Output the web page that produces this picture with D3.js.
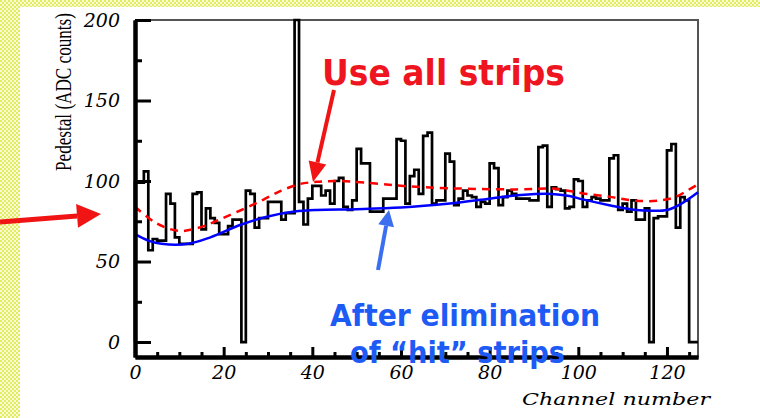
<!DOCTYPE html>
<html>
<head>
<meta charset="utf-8">
<script src="https://cdn.jsdelivr.net/npm/d3@7"></script>
<style>
  body { margin: 0; background: #fff; }
  svg { display: block; }
</style>
</head>
<body>
<svg id="chart" width="760" height="418"></svg>
<script>
// pedestal per channel (ADC counts), channels 0..126
const pedestal = [
  99, 99, 106, 57, 64, 63, 63, 92, 86, 65,
  61, 61, 61, 92, 93, 70, 83, 77, 74, 67,
  67, 72, 76, 76, 0, 94, 92, 71, 77, 77,
  87, 87, 87, 76, 80, 80, 200, 87, 73, 89,
  97, 97, 91, 94, 86, 100, 102, 84, 82, 88,
  120, 111, 111, 81, 81, 81, 89, 89, 89, 126,
  125, 86, 103, 107, 92, 128, 130, 86, 88, 88,
  117, 112, 85, 89, 94, 91, 90, 84, 87, 86,
  111, 108, 85, 90, 94, 92, 89, 89, 89, 88,
  88, 121, 122, 84, 96, 95, 94, 83, 84, 101,
  100, 84, 88, 90, 89, 88, 88, 114, 116, 82,
  86, 81, 88, 76, 76, 83, 0, 77, 78, 78,
  119, 123, 71, 90, 88, 0, 0
];

// fit using all strips (red dashed)
const allChan = [0, 5, 10, 15, 19, 24, 29, 33, 37, 41, 46, 52, 60, 71, 86, 94, 98, 101, 107.5, 112.7, 118, 121.8, 124.8, 127];
const allFit = [84, 73.5, 69, 71.5, 76, 82, 88.5, 94, 98, 99.5, 100, 99, 97, 95.5, 94.8, 95.3, 93.8, 92.3, 90, 87.8, 87.8, 89.9, 94.4, 98];

// fit after elimination of hit strips (blue)
const cleanChan = [0, 3, 6, 12, 17, 24, 30, 36, 41, 50, 60, 71, 80, 87, 94, 98, 101, 107, 113, 117, 120, 123, 127];
const cleanFit = [67, 63, 61, 61, 65, 73, 78, 81, 82, 82.5, 83.5, 86, 89, 91.3, 92, 90.7, 88.6, 85, 82, 81.5, 82, 85.5, 93];

const yMajor = [0, 50, 100, 150, 200];
const yMinor = [25, 75, 125, 175];
const xMajor = [0, 20, 40, 60, 80, 100, 120];
const xMinor = d3.range(5, 130, 5).filter(d => d % 20 !== 0);

const nChan = 127;
const yFloor = -9.3; // x axis sits a bit below zero

const svg = d3.select('#chart');

// checkered slide border
const defs = svg.append('defs');
const pat = defs.append('pattern')
  .attr('id', 'checker')
  .attr('width', 4).attr('height', 4)
  .attr('patternUnits', 'userSpaceOnUse');
pat.append('rect').attr('width', 4).attr('height', 4).attr('fill', '#f8fbd2');
pat.append('rect').attr('width', 2).attr('height', 2).attr('fill', '#e3eb62');
pat.append('rect').attr('x', 2).attr('y', 2).attr('width', 2).attr('height', 2).attr('fill', '#e3eb62');

svg.append('rect').attr('width', 760).attr('height', 418).attr('fill', '#fff');
svg.append('rect').attr('width', 760).attr('height', 7).attr('fill', 'url(#checker)');
svg.append('rect').attr('width', 20).attr('height', 418).attr('fill', 'url(#checker)');

const x = d3.scaleLinear().domain([0, nChan]).range([135, 698]);
const y = d3.scaleLinear().domain([yFloor, 200]).range([357, 20]);

// frame: top and right thin
svg.append('path')
  .attr('d', `M${x(0)},${y(200)}H${x(nChan)}V${y(yFloor)}`)
  .attr('fill', 'none')
  .attr('stroke', '#555')
  .attr('stroke-width', 2);

// histogram outline
const steps = pedestal.map((v, i) => [i, v]);
steps.push([nChan, pedestal[nChan - 1]]);
const histLine = d3.line()
  .x(d => x(d[0]))
  .y(d => y(d[1]))
  .curve(d3.curveStepAfter);
svg.append('path')
  .attr('d', histLine([[0, 0]].concat(steps, [[nChan, 0]])))
  .attr('fill', 'none')
  .attr('stroke', '#000')
  .attr('stroke-width', 2.7)
  .attr('stroke-linejoin', 'miter');

// fitted baselines
const fitLine = d3.line()
  .x(d => x(d[0]))
  .y(d => y(d[1]))
  .curve(d3.curveCatmullRom);

svg.append('path')
  .attr('d', fitLine(d3.zip(allChan, allFit)))
  .attr('fill', 'none')
  .attr('stroke', '#ff0000')
  .attr('stroke-width', 2.5)
  .attr('stroke-dasharray', '8,6');

svg.append('path')
  .attr('d', fitLine(d3.zip(cleanChan, cleanFit)))
  .attr('fill', 'none')
  .attr('stroke', '#0000ff')
  .attr('stroke-width', 2.5);

// axes, ticks point inward like ROOT
function styleAxis(g) {
  g.select('.domain').attr('stroke', '#000').attr('stroke-width', 4);
  g.selectAll('.tick line').attr('stroke', '#000').attr('stroke-width', 3);
  g.selectAll('.tick text')
    .attr('fill', '#000')
    .style('font-family', '"DejaVu Serif", serif')
    .style('font-style', 'italic')
    .style('font-size', '19px');
}

svg.append('g')
  .attr('transform', `translate(${x(0)},0)`)
  .call(d3.axisLeft(y).tickValues(yMinor).tickSizeInner(-7).tickSizeOuter(0).tickFormat(''))
  .call(styleAxis);
svg.append('g')
  .attr('transform', `translate(${x(0)},0)`)
  .call(d3.axisLeft(y).tickValues(yMajor).tickSizeInner(-16).tickSizeOuter(0).tickPadding(15))
  .call(styleAxis);

svg.append('g')
  .attr('transform', `translate(0,${y(yFloor)})`)
  .call(d3.axisBottom(x).tickValues(xMinor).tickSizeInner(-5).tickSizeOuter(0).tickFormat(''))
  .call(styleAxis);
svg.append('g')
  .attr('transform', `translate(0,${y(yFloor)})`)
  .call(d3.axisBottom(x).tickValues(xMajor).tickSizeInner(-10).tickSizeOuter(0).tickPadding(9))
  .call(styleAxis);

// axis titles
svg.append('text')
  .attr('transform', 'translate(71,171) rotate(-90)')
  .attr('textLength', 158)
  .attr('lengthAdjust', 'spacingAndGlyphs')
  .style('font-family', '"Liberation Serif", serif')
  .style('font-size', '23px')
  .text('Pedestal (ADC counts)');

svg.append('text')
  .attr('x', 522)
  .attr('y', 405)
  .attr('textLength', 188)
  .attr('lengthAdjust', 'spacingAndGlyphs')
  .style('font-family', '"DejaVu Serif", serif')
  .style('font-style', 'italic')
  .style('font-size', '17px')
  .text('Channel number');

// arrows
function arrow(x1, y1, x2, y2, w, len, head, color) {
  const a = Math.atan2(y2 - y1, x2 - x1);
  const bx = x2 - len * Math.cos(a), by = y2 - len * Math.sin(a);
  const px = Math.sin(a) * head / 2, py = -Math.cos(a) * head / 2;
  svg.append('line')
    .attr('x1', x1).attr('y1', y1).attr('x2', bx).attr('y2', by)
    .attr('stroke', color).attr('stroke-width', w);
  svg.append('path')
    .attr('d', `M${x2},${y2}L${bx + px},${by + py}L${bx - px},${by - py}Z`)
    .attr('fill', color);
}

arrow(0, 222, 101, 214, 5, 24, 24, '#f01414');
arrow(334, 90, 313, 182, 4, 20, 18, '#f01414');
arrow(378, 270, 389, 210, 4, 16, 16, '#3b6ff0');

// annotations
svg.append('text')
  .attr('x', 322).attr('y', 85)
  .attr('textLength', 243)
  .attr('lengthAdjust', 'spacingAndGlyphs')
  .attr('fill', '#ee1520')
  .style('font-family', '"DejaVu Sans", sans-serif')
  .style('font-weight', 'bold')
  .style('font-size', '36px')
  .text('Use all strips');

svg.append('text')
  .attr('x', 330).attr('y', 326)
  .attr('textLength', 270)
  .attr('lengthAdjust', 'spacingAndGlyphs')
  .attr('fill', '#1e5bf5')
  .style('font-family', '"DejaVu Sans", sans-serif')
  .style('font-weight', 'bold')
  .style('font-size', '31px')
  .text('After elimination');

svg.append('text')
  .attr('x', 350).attr('y', 363)
  .attr('textLength', 215)
  .attr('lengthAdjust', 'spacingAndGlyphs')
  .attr('fill', '#1e5bf5')
  .style('font-family', '"DejaVu Sans", sans-serif')
  .style('font-weight', 'bold')
  .style('font-size', '31px')
  .text('of \u201chit\u201d strips');
</script>
</body>
</html>
